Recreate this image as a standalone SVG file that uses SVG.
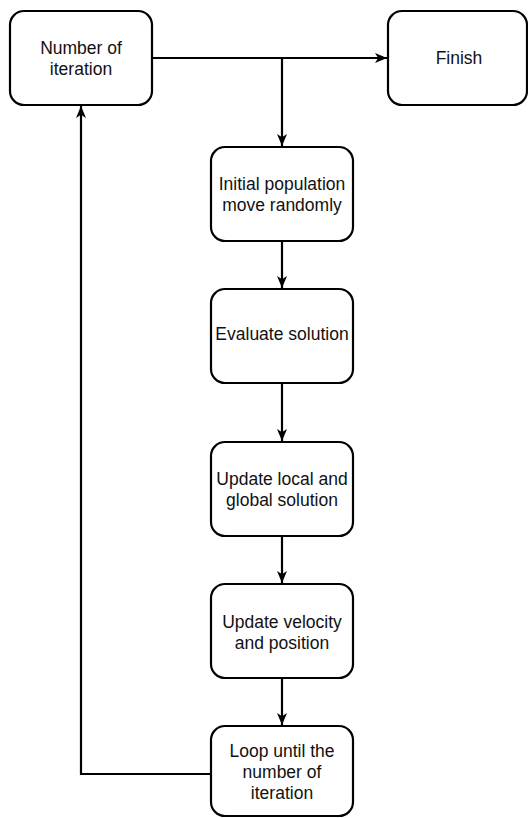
<svg xmlns="http://www.w3.org/2000/svg" width="528" height="818" viewBox="0 0 528 818">
<style>
.box{fill:#fff;stroke:#000;stroke-width:2.2}
.lbl{font-family:"Liberation Sans",Arial,sans-serif;font-size:17.5px;fill:#111;text-anchor:middle}
.edge{fill:none;stroke:#000;stroke-width:2.2}
</style>
<defs>
<marker id="arr" markerUnits="userSpaceOnUse" markerWidth="13" markerHeight="11" viewBox="0 0 13 11" refX="12" refY="5.5" orient="auto">
<path d="M0,0.5 L12,5.5 L0,10.5 L3.2,5.5 Z" fill="#000"/>
</marker>
</defs>
<rect width="528" height="818" fill="#fff"/>
<g id="connectors">
<path class="edge" d="M152,58 H387" marker-end="url(#arr)"/>
<path class="edge" d="M282,58 V146" marker-end="url(#arr)"/>
<path class="edge" d="M282,241 V288" marker-end="url(#arr)"/>
<path class="edge" d="M282,383 V441" marker-end="url(#arr)"/>
<path class="edge" d="M282,536 V583" marker-end="url(#arr)"/>
<path class="edge" d="M282,678 V725" marker-end="url(#arr)"/>
<path class="edge" d="M211,774 H81 V106" marker-end="url(#arr)"/>
</g>
<g id="n-iter">
<rect class="box" x="10" y="11" width="142" height="94" rx="14"/>
<text class="lbl" x="81" y="54">Number of</text>
<text class="lbl" x="81" y="75">iteration</text>
</g>
<g id="n-finish">
<rect class="box" x="388" y="11" width="139" height="94" rx="14"/>
<text class="lbl" x="459" y="64">Finish</text>
</g>
<g id="n-init">
<rect class="box" x="211" y="147" width="142" height="94" rx="14"/>
<text class="lbl" x="282" y="190">Initial population</text>
<text class="lbl" x="282" y="211">move randomly</text>
</g>
<g id="n-eval">
<rect class="box" x="211" y="289" width="142" height="94" rx="14"/>
<text class="lbl" x="282" y="340">Evaluate solution</text>
</g>
<g id="n-update">
<rect class="box" x="211" y="442" width="142" height="94" rx="14"/>
<text class="lbl" x="282" y="485">Update local and</text>
<text class="lbl" x="282" y="506">global solution</text>
</g>
<g id="n-velocity">
<rect class="box" x="211" y="584" width="142" height="94" rx="14"/>
<text class="lbl" x="282" y="628">Update velocity</text>
<text class="lbl" x="282" y="649">and position</text>
</g>
<g id="n-loop">
<rect class="box" x="211" y="726" width="142" height="90" rx="14"/>
<text class="lbl" x="282" y="757">Loop until the</text>
<text class="lbl" x="282" y="778">number of</text>
<text class="lbl" x="282" y="799">iteration</text>
</g>
</svg>
